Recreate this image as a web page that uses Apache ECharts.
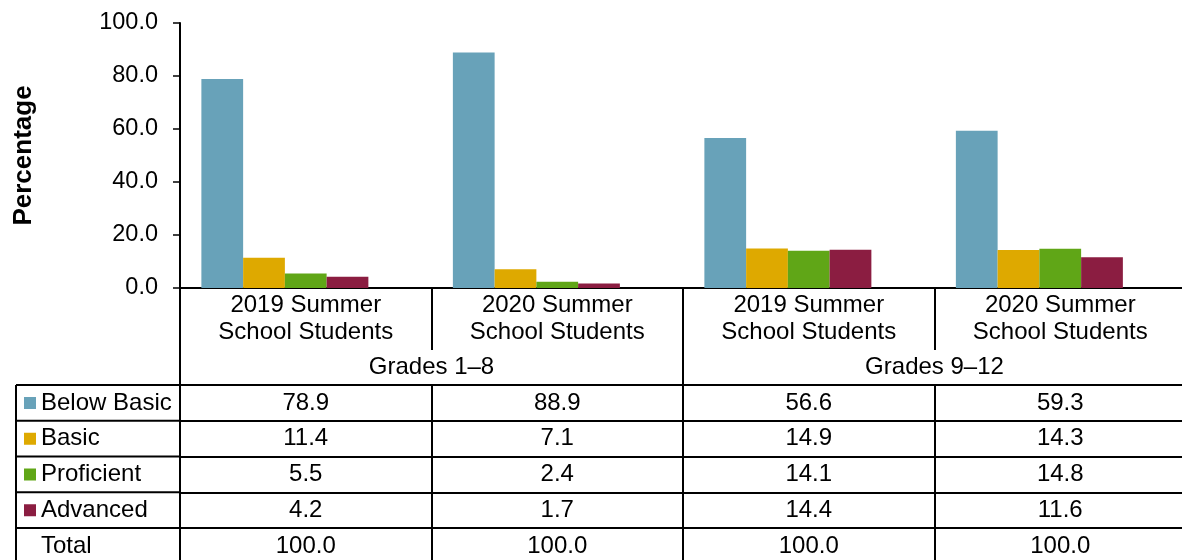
<!DOCTYPE html>
<html>
<head>
<meta charset="utf-8">
<script src="https://cdn.jsdelivr.net/npm/echarts@6/dist/echarts.min.js"></script>
<style>
html,body{margin:0;padding:0;background:#fff;}
#chart{width:1182px;height:560px;}
</style>
</head>
<body>
<div id="chart"></div>
<script>
// ---- data ----
const categories = ['2019 Summer\nSchool Students', '2020 Summer\nSchool Students', '2019 Summer\nSchool Students', '2020 Summer\nSchool Students'];
const gradeGroups = ['Grades 1–8', 'Grades 9–12'];
const seriesNames = ['Below Basic', 'Basic', 'Proficient', 'Advanced', 'Total'];
const belowBasic = [78.9, 88.9, 56.6, 59.3];
const basic = [11.4, 7.1, 14.9, 14.3];
const proficient = [5.5, 2.4, 14.1, 14.8];
const advanced = [4.2, 1.7, 14.4, 11.6];
const total = [100.0, 100.0, 100.0, 100.0];
const yMin = 0, yMax = 100, yStep = 20;

// ---- layout / style ----
const FONT = '"Liberation Sans", Arial, sans-serif';
const FS = 24;
const colors = ['#68A2B9', '#DEA900', '#60A617', '#8B1D41', 'rgba(0,0,0,0)'];
const gridTop = 23, gridLeft = 180, gridBottomY = 288, H = 560;
const tableTop = 385, rowH = 35.75, leftColX = 16;
const rows = [belowBasic, basic, proficient, advanced, total];
const seriesData = rows;

const chart = echarts.init(document.getElementById('chart'), null, {renderer: 'canvas'});

const lineStyle = {color: '#000', width: 2};
const xAxes = [
  {
    type: 'category', data: categories, position: 'bottom',
    axisLine: {show: true, lineStyle: lineStyle},
    axisTick: {show: true, interval: 0, length: 62, lineStyle: lineStyle},
    axisLabel: {interval: 0, fontSize: FS, lineHeight: 27, color: '#000', fontFamily: FONT, margin: 4}
  },
  {
    type: 'category', data: gradeGroups, position: 'bottom', offset: 0,
    axisLine: {show: false},
    axisTick: {show: true, interval: 0, length: H - gridBottomY, lineStyle: lineStyle},
    axisLabel: {interval: 0, fontSize: FS, color: '#000', fontFamily: FONT, margin: 79, verticalAlign: 'middle'}
  }
];
rows.forEach((vals, r) => {
  xAxes.push({
    type: 'category', data: categories, position: 'bottom',
    offset: (tableTop - gridBottomY) + r * rowH,
    axisLine: {show: true, lineStyle: lineStyle},
    axisTick: {show: true, interval: 0, length: r === rows.length - 1 ? 40 : rowH, lineStyle: lineStyle},
    axisLabel: {
      interval: 0, fontSize: FS, color: '#000', fontFamily: FONT,
      margin: rowH / 2, verticalAlign: 'middle',
      formatter: (v, i) => vals[i].toFixed(1)
    }
  });
});

const graphics = [];
for (let r = 0; r < rows.length; r++) {
  const y = tableTop + r * rowH;
  graphics.push({type: 'line', shape: {x1: leftColX, y1: y, x2: gridLeft, y2: y}, style: {stroke: '#000', lineWidth: 2}, silent: true});
}
graphics.push({type: 'line', shape: {x1: leftColX, y1: tableTop, x2: leftColX, y2: H}, style: {stroke: '#000', lineWidth: 2}, silent: true});

const option = {
  backgroundColor: '#fff',
  animation: false,
  textStyle: {fontFamily: FONT},
  grid: {left: gridLeft, right: -4, top: gridTop, bottom: H - gridBottomY, containLabel: false, outerBoundsMode: 'none'},
  legend: {
    data: seriesNames, orient: 'vertical', left: 24, top: tableTop + 6,
    padding: 0, itemWidth: 12, itemHeight: 12, itemGap: rowH - 24,
    icon: 'rect', selectedMode: false,
    textStyle: {fontSize: FS, lineHeight: 24, color: '#000', fontFamily: FONT}
  },
  xAxis: xAxes,
  yAxis: {
    type: 'value', min: yMin, max: yMax, interval: yStep,
    name: 'Percentage', nameLocation: 'middle', nameRotate: 90, nameGap: 143,
    nameTextStyle: {fontSize: 26, fontWeight: 'bold', color: '#000', fontFamily: FONT},
    axisLine: {show: true, lineStyle: {color: '#000', width: 2}},
    axisTick: {show: true, length: 7, lineStyle: {color: '#000', width: 1.5}},
    axisLabel: {fontSize: 23.5, color: '#000', fontFamily: FONT, margin: 22, formatter: v => v.toFixed(1)},
    splitLine: {show: false}
  },
  series: seriesNames.map((name, i) => ({
    name: name, type: 'bar', xAxisIndex: 0, data: seriesData[i],
    barGap: '0%', barCategoryGap: '17%',
    itemStyle: {color: colors[i]},
    silent: i === 4
  })),
  graphic: graphics
};
chart.setOption(option);
</script>
</body>
</html>
